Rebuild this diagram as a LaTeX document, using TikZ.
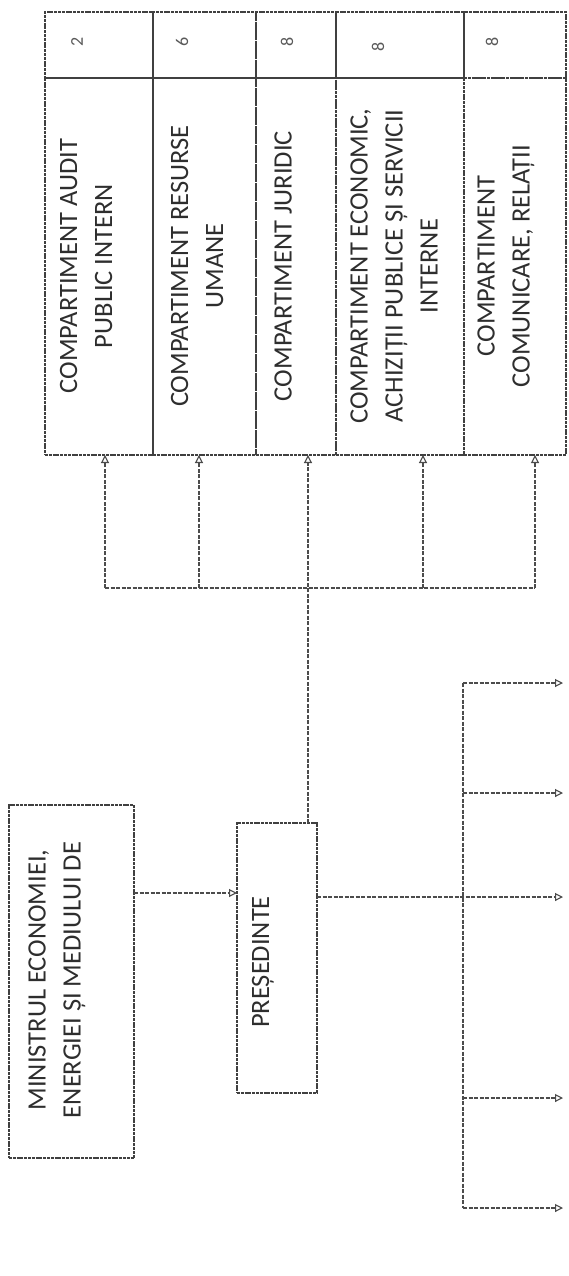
\documentclass[tikz,border=0pt]{standalone}
\usepackage{fontspec}
\setmainfont{Carlito}
\usetikzlibrary{arrows.meta}
\begin{document}
\begin{tikzpicture}[x=1pt,y=1pt]
\tikzset{caseta/.style={draw=black!75, line width=1.3pt, dash pattern=on 3pt off 0.8pt, inner sep=0pt, outer sep=0pt},
eticheta/.style={rotate=90, align=center, text=black!82, font=\fontsize{26.5}{35}\selectfont, inner sep=0pt},
cifra/.style={rotate=90, text=black!65, font=\fontsize{18}{18}\selectfont, inner sep=0pt},
legatura/.style={draw=black!70, line width=1.1pt, dash pattern=on 4pt off 1.5pt},
sageata/.style={legatura, -{Triangle[open, length=8pt, width=8pt]}}}
\useasboundingbox (0,0) rectangle (569,-1276);
\node[caseta, minimum width=108pt, minimum height=66pt] (N1) at (99,-45) {};
\node[caseta, minimum width=103pt, minimum height=66pt] (N2) at (204.5,-45) {};
\node[caseta, minimum width=80pt, minimum height=66pt] (N3) at (296,-45) {};
\node[caseta, minimum width=128pt, minimum height=66pt] (N4) at (400,-45) {};
\node[caseta, minimum width=102pt, minimum height=66pt] (N5) at (515,-45) {};
\node[caseta, minimum width=108pt, minimum height=377pt] (C1) at (99,-266.5) {};
\node[caseta, minimum width=103pt, minimum height=377pt] (C2) at (204.5,-266.5) {};
\node[caseta, minimum width=80pt, minimum height=377pt] (C3) at (296,-266.5) {};
\node[caseta, minimum width=128pt, minimum height=377pt] (C4) at (400,-266.5) {};
\node[caseta, minimum width=102pt, minimum height=377pt] (C5) at (515,-266.5) {};
\node[cifra] (n1) at (77,-42) {2};
\node[cifra] (n2) at (182,-42) {6};
\node[cifra] (n3) at (287,-42) {8};
\node[cifra] (n4) at (378,-47) {8};
\node[cifra] (n5) at (492,-42) {8};
\node[eticheta] (e1) at (86,-266) {COMPARTIMENT AUDIT\\PUBLIC INTERN};
\node[eticheta] (e2) at (197,-266) {COMPARTIMENT RESURSE\\UMANE};
\node[eticheta] (e3) at (283,-266) {COMPARTIMENT JURIDIC};
\node[eticheta] (e4) at (394,-266) {COMPARTIMENT ECONOMIC,\\ACHIZIȚII PUBLICE ȘI SERVICII\\INTERNE};
\node[eticheta] (e5) at (506,-266) {COMPARTIMENT\\COMUNICARE, RELAȚII};
\node[caseta, minimum width=125pt, minimum height=353pt] (MIN) at (71.5,-981.5) {};
\node[eticheta] (min) at (57,-980) {MINISTRUL ECONOMIEI,\\ENERGIEI ȘI MEDIULUI DE};
\node[caseta, minimum width=80pt, minimum height=270pt] (PRES) at (277,-958) {};
\node[eticheta] (pres) at (263,-962) {PREȘEDINTE};
\coordinate (M) at (0,-893);
\draw[sageata] (MIN.east |- M) -- (PRES.west |- M);
\coordinate (B1) at (105,-588);
\coordinate (B2) at (199,-588);
\coordinate (B3) at (308,-588);
\coordinate (B4) at (423,-588);
\coordinate (B5) at (535,-588);
\draw[legatura] (B1) -- (B5);
\draw[sageata] (B1) -- (C1.south -| B1);
\draw[sageata] (B2) -- (C2.south -| B2);
\draw[sageata] (PRES.north -| B3) -- (C3.south -| B3);
\draw[sageata] (B4) -- (C4.south -| B4);
\draw[sageata] (B5) -- (C5.south -| B5);
\coordinate (V) at (463,0);
\coordinate (D0) at (563,-897);
\coordinate (D1) at (563,-683);
\coordinate (D2) at (563,-793);
\coordinate (D3) at (563,-1098);
\coordinate (D4) at (563,-1208);
\draw[sageata] (PRES.east |- D0) -- (D0);
\draw[legatura] (V |- D1) -- (V |- D4);
\draw[sageata] (V |- D1) -- (D1);
\draw[sageata] (V |- D2) -- (D2);
\draw[sageata] (V |- D3) -- (D3);
\draw[sageata] (V |- D4) -- (D4);
\end{tikzpicture}
\end{document}
